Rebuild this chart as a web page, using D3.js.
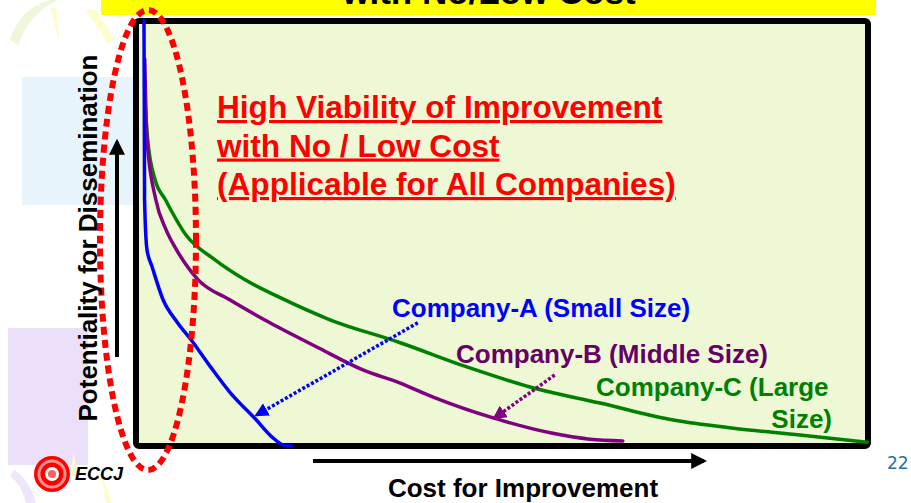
<!DOCTYPE html>
<html lang="en">
<head>
<meta charset="UTF-8">
<title>High Viability of Improvement with No/Low Cost</title>
<script src="https://d3js.org/d3.v7.min.js"></script>
<style>
    body { margin: 0; background: #fff; }
    text { font-family: "Liberation Sans", Arial, sans-serif; font-weight: bold; }
</style>
</head>
<body>
<svg id="chart" width="911" height="503"></svg>
<script>
    // cost (0-100) vs potentiality (0-100)
    const companyA = [[1.09,100],[1.13,81.5],[1.17,58],[1.5,46.2],[2.2,42.2],[3.7,34.4],[5.6,29.2],[7.65,24.7],
                      [10.1,18.8],[12.8,12.7],[16.3,6.4],[18.6,2.1],[20.2,0.2],[21.3,0]];
    const companyB = [[1.2,91],[1.5,72],[2.7,58],[4.1,50.9],[5.7,45.7],[8.5,39.1],[12.8,34.4],[18.3,29],
                      [24.7,23.3],[31,17.9],[36.1,14.8],[40.6,11.5],[48.8,6.6],[56.6,3.1],[62,1.6],[66.5,1.2]];
    const companyC = [[1.2,81.5],[1.6,72],[2.6,62.7],[4,58],[6.8,49.7],[10.8,43.8],[14.9,39.1],[19.7,34.9],
                      [26.5,29.7],[36.1,24.3],[45.2,18.6],[54.2,13.7],[63.4,10.1],[73.4,6.1],[81.6,4.2],
                      [90.7,2.6],[99.9,0.9]];
    const seriesNames = ["Company-A (Small Size)", "Company-B (Middle Size)", "Company-C (Large", "Size)"];
    // pointer arrows: [from, to] in data units
    const arrowA = [[38.5,29],[16.5,7.3]];
    const arrowB = [[57.2,16.7],[49,6.6]];

    const svg = d3.select("#chart");

    const x = d3.scaleLinear().domain([0, 100]).range([136, 868]);
    const y = d3.scaleLinear().domain([0, 100]).range([446, 21]);

    // faint slide decorations
    const deco = svg.append("g");
    deco.append("path").attr("d", "M10,40 Q20,8 50,0 L58,0 Q30,12 18,45 Z").attr("fill", "#eef6dc");
    deco.append("path").attr("d", "M50,8 L56,8 L60,44 Z").attr("fill", "#fdfccc");
    deco.append("path").attr("d", "M86,10 L96,10 L115,40 L108,44 Z").attr("fill", "#fdfccc");
    deco.append("rect").attr("x", 22).attr("y", 77).attr("width", 112).attr("height", 128).attr("fill", "#e8f4fc");
    deco.append("rect").attr("x", 8).attr("y", 328).attr("width", 80).attr("height", 137).attr("fill", "#ecdff9");
    deco.append("path").attr("d", "M14,470 Q30,480 36,503 L26,503 Q22,485 10,476 Z").attr("fill", "#efe6fb");
    deco.append("path").attr("d", "M100,470 L106,503 L112,503 Z").attr("fill", "#fdfccc");
    deco.append("path").attr("d", "M74,452 L77,476 L70,476 Z").attr("fill", "#fdfccc");

    // title bar (cut off at the top of the slide)
    svg.append("rect").attr("x", 101).attr("y", 0).attr("width", 775).attr("height", 15).attr("fill", "#ffff00");
    svg.append("text").attr("x", 489).attr("y", 4).attr("text-anchor", "middle")
        .attr("font-size", 35).attr("fill", "#000").text("with No/Low Cost");

    // plot frame
    svg.append("rect")
        .attr("x", x(0)).attr("y", y(100))
        .attr("width", x(100) - x(0)).attr("height", y(0) - y(100))
        .attr("rx", 3)
        .attr("fill", "#eef8d4").attr("stroke", "#000").attr("stroke-width", 6);

    const line = d3.line()
        .x(d => x(d[0]))
        .y(d => y(d[1]))
        .curve(d3.curveMonotoneX);

    svg.append("path").datum(companyC).attr("d", line)
        .attr("fill", "none").attr("stroke", "#008000").attr("stroke-width", 3.5).attr("stroke-linecap", "round");
    svg.append("path").datum(companyB).attr("d", line)
        .attr("fill", "none").attr("stroke", "#800080").attr("stroke-width", 3.5).attr("stroke-linecap", "round");
    svg.append("path").datum(companyA).attr("d", line)
        .attr("fill", "none").attr("stroke", "#0000ff").attr("stroke-width", 3.5).attr("stroke-linecap", "round");

    // arrowheads
    const defs = svg.append("defs");
    [["headA", "#0000ff"], ["headB", "#800080"], ["headK", "#000"]].forEach(([id, c]) => {
        defs.append("marker").attr("id", id)
            .attr("viewBox", "0 0 10 10").attr("refX", 8).attr("refY", 5)
            .attr("markerWidth", 4).attr("markerHeight", 4).attr("orient", "auto")
            .attr("markerUnits", "strokeWidth")
            .append("path").attr("d", "M0,0 L10,5 L0,10 Z").attr("fill", c);
    });

    svg.append("line")
        .attr("x1", x(arrowA[0][0])).attr("y1", y(arrowA[0][1]))
        .attr("x2", x(arrowA[1][0])).attr("y2", y(arrowA[1][1]))
        .attr("stroke", "#0000ff").attr("stroke-width", 3.5).attr("stroke-dasharray", "3,2")
        .attr("marker-end", "url(#headA)");
    svg.append("line")
        .attr("x1", x(arrowB[0][0])).attr("y1", y(arrowB[0][1]))
        .attr("x2", x(arrowB[1][0])).attr("y2", y(arrowB[1][1]))
        .attr("stroke", "#800080").attr("stroke-width", 3.5).attr("stroke-dasharray", "3,2")
        .attr("marker-end", "url(#headB)");

    // series labels
    svg.append("text").attr("x", 392).attr("y", 317).attr("font-size", 26).attr("fill", "#0000ff").text(seriesNames[0]);
    svg.append("text").attr("x", 456).attr("y", 363).attr("font-size", 26).attr("fill", "#660066").text(seriesNames[1]);
    svg.append("text").attr("x", 596).attr("y", 396).attr("font-size", 26).attr("fill", "#008000").text(seriesNames[2]);
    svg.append("text").attr("x", 832).attr("y", 428).attr("text-anchor", "end")
        .attr("font-size", 26).attr("fill", "#008000").text(seriesNames[3]);

    // headline
    const head = ["High Viability of Improvement", "with No / Low Cost", "(Applicable for All Companies)"];
    svg.append("g").selectAll("text").data(head).enter().append("text")
        .attr("x", 217).attr("y", (d, i) => 118 + i * 38.5)
        .attr("font-size", 31.6).attr("fill", "#ff0000")
        .attr("text-decoration", "underline")
        .text(d => d);

    // red dotted ellipse highlighting the low-cost zone
    svg.append("ellipse")
        .attr("cx", 148).attr("cy", 240).attr("rx", 48).attr("ry", 230)
        .attr("fill", "none").attr("stroke", "#ff0000").attr("stroke-width", 6)
        .attr("stroke-dasharray", "8,5");

    // axis arrows and titles
    svg.append("line").attr("x1", 117).attr("y1", 357).attr("x2", 117).attr("y2", 142)
        .attr("stroke", "#000").attr("stroke-width", 4).attr("marker-end", "url(#headK)");
    svg.append("line").attr("x1", 313).attr("y1", 461).attr("x2", 704).attr("y2", 461)
        .attr("stroke", "#000").attr("stroke-width", 4).attr("marker-end", "url(#headK)");

    svg.append("text")
        .attr("transform", "translate(97,238) rotate(-90)")
        .attr("text-anchor", "middle").attr("font-size", 26).attr("fill", "#000")
        .text("Potentiality for Dissemination");
    svg.append("text").attr("x", 523).attr("y", 497).attr("text-anchor", "middle")
        .attr("font-size", 26).attr("fill", "#000").text("Cost for Improvement");

    // logo + page number
    const logo = svg.append("g").attr("transform", "translate(52,474)");
    logo.append("circle").attr("r", 18).attr("fill", "#ff0000");
    logo.append("circle").attr("r", 13).attr("fill", "none").attr("stroke", "#ff9090").attr("stroke-width", 3);
    logo.append("circle").attr("r", 7).attr("fill", "#ffffff");
    logo.append("circle").attr("r", 4).attr("fill", "#ff6060");
    svg.append("text").attr("x", 75).attr("y", 480)
        .attr("font-family", "'Liberation Serif', serif").attr("font-style", "italic")
        .attr("font-size", 18).attr("fill", "#000").text("ECCJ");
    svg.append("text").attr("x", 887).attr("y", 469)
        .style("font-family", "'DejaVu Sans', sans-serif").style("font-weight", "normal")
        .style("font-size", "17px").attr("fill", "#2a6ea6").text("22");
</script>
</body>
</html>
